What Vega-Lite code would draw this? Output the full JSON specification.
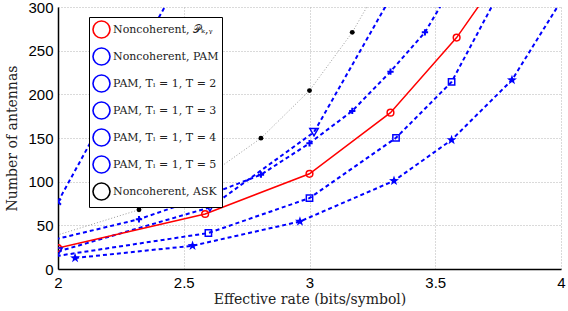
{
  "$schema": "https://vega.github.io/schema/vega-lite/v6.json",
  "width": 503,
  "height": 262,
  "autosize": {"type": "none"},
  "padding": {"left": 58, "top": 7, "right": 7, "bottom": 42},
  "background": "white",
  "config": {
    "view": {"stroke": null},
    "axis": {
      "labelFont": "Liberation Sans",
      "labelFontSize": 15,
      "labelColor": "#000",
      "titleFont": "DejaVu Serif",
      "titleFontSize": 14,
      "titleFontWeight": "normal",
      "titleColor": "#222",
      "domainColor": "#000",
      "domainWidth": 1.5,
      "ticks": false,
      "gridColor": "#b4b4b4",
      "gridDash": [1, 2],
      "gridWidth": 1
    }
  },
  "data": {
    "values": [
      {"s": "Noncoherent, 𝒫ₖ,ᵧ", "x": 2.0, "y": 24},
      {"s": "Noncoherent, 𝒫ₖ,ᵧ", "x": 2.585, "y": 63},
      {"s": "Noncoherent, 𝒫ₖ,ᵧ", "x": 3.0, "y": 109},
      {"s": "Noncoherent, 𝒫ₖ,ᵧ", "x": 3.322, "y": 179},
      {"s": "Noncoherent, 𝒫ₖ,ᵧ", "x": 3.585, "y": 265},
      {"s": "Noncoherent, 𝒫ₖ,ᵧ", "x": 3.807, "y": 356},
      {"s": "Noncoherent, PAM", "x": 1.585, "y": 6},
      {"s": "Noncoherent, PAM", "x": 2.322, "y": 57},
      {"s": "Noncoherent, PAM", "x": 2.585, "y": 83},
      {"s": "Noncoherent, PAM", "x": 2.807, "y": 108},
      {"s": "Noncoherent, PAM", "x": 3.0, "y": 144},
      {"s": "Noncoherent, PAM", "x": 3.17, "y": 181},
      {"s": "Noncoherent, PAM", "x": 3.322, "y": 226},
      {"s": "Noncoherent, PAM", "x": 3.459, "y": 271},
      {"s": "Noncoherent, PAM", "x": 3.585, "y": 332},
      {"s": "PAM, Tₗ = 1, T = 2", "x": 2.0, "y": 77},
      {"s": "PAM, Tₗ = 1, T = 2", "x": 2.5, "y": 340},
      {"s": "PAM, Tₗ = 1, T = 3", "x": 2.0, "y": 20},
      {"s": "PAM, Tₗ = 1, T = 3", "x": 2.604, "y": 70.5},
      {"s": "PAM, Tₗ = 1, T = 3", "x": 3.018, "y": 156.7},
      {"s": "PAM, Tₗ = 1, T = 3", "x": 3.364, "y": 332},
      {"s": "PAM, Tₗ = 1, T = 4", "x": 1.94, "y": 12.5},
      {"s": "PAM, Tₗ = 1, T = 4", "x": 2.598, "y": 41.2},
      {"s": "PAM, Tₗ = 1, T = 4", "x": 3.0, "y": 81.2},
      {"s": "PAM, Tₗ = 1, T = 4", "x": 3.344, "y": 150.2},
      {"s": "PAM, Tₗ = 1, T = 4", "x": 3.565, "y": 214.2},
      {"s": "PAM, Tₗ = 1, T = 4", "x": 3.783, "y": 332},
      {"s": "PAM, Tₗ = 1, T = 5", "x": 2.068, "y": 12.6},
      {"s": "PAM, Tₗ = 1, T = 5", "x": 2.535, "y": 26.6},
      {"s": "PAM, Tₗ = 1, T = 5", "x": 2.962, "y": 54.4},
      {"s": "PAM, Tₗ = 1, T = 5", "x": 3.336, "y": 101},
      {"s": "PAM, Tₗ = 1, T = 5", "x": 3.565, "y": 147.8},
      {"s": "PAM, Tₗ = 1, T = 5", "x": 3.805, "y": 216.4},
      {"s": "PAM, Tₗ = 1, T = 5", "x": 4.035, "y": 323},
      {"s": "Noncoherent, ASK", "x": 1.585, "y": 2},
      {"s": "Noncoherent, ASK", "x": 2.322, "y": 67.8},
      {"s": "Noncoherent, ASK", "x": 2.585, "y": 104.4},
      {"s": "Noncoherent, ASK", "x": 2.807, "y": 149.8},
      {"s": "Noncoherent, ASK", "x": 3.0, "y": 204.3},
      {"s": "Noncoherent, ASK", "x": 3.17, "y": 271},
      {"s": "Noncoherent, ASK", "x": 3.322, "y": 347}
    ]
  },
  "encoding": {
    "x": {
      "field": "x", "type": "quantitative",
      "scale": {"domain": [2, 4], "nice": false, "zero": false},
      "axis": {"values": [2, 2.5, 3, 3.5, 4], "format": "~g", "title": "Effective rate (bits/symbol)", "labelPadding": 6, "titlePadding": 2, "labelFlush": false}
    },
    "y": {
      "field": "y", "type": "quantitative",
      "scale": {"domain": [0, 300], "nice": false},
      "axis": {"values": [0, 50, 100, 150, 200, 250, 300], "title": "Number of antennas", "labelPadding": 5, "titlePadding": 8, "labelFlush": false}
    }
  },
  "layer": [
    {
      "transform": [{"filter": {"field": "s", "equal": "Noncoherent, ASK"}}],
      "mark": {"type": "line", "clip": true, "color": "#9a9a9a", "strokeWidth": 1, "strokeDash": [1, 2]},
      "encoding": {}
    },
    {
      "transform": [{"filter": {"field": "s", "equal": "Noncoherent, PAM"}}],
      "mark": {"type": "line", "clip": true, "color": "#0000ff", "strokeWidth": 2, "strokeDash": [4, 3]},
      "encoding": {}
    },
    {
      "transform": [{"filter": {"field": "s", "equal": "PAM, Tₗ = 1, T = 2"}}],
      "mark": {"type": "line", "clip": true, "color": "#0000ff", "strokeWidth": 2, "strokeDash": [4, 3]},
      "encoding": {}
    },
    {
      "transform": [{"filter": {"field": "s", "equal": "PAM, Tₗ = 1, T = 3"}}],
      "mark": {"type": "line", "clip": true, "color": "#0000ff", "strokeWidth": 2, "strokeDash": [4, 3]},
      "encoding": {}
    },
    {
      "transform": [{"filter": {"field": "s", "equal": "PAM, Tₗ = 1, T = 4"}}],
      "mark": {"type": "line", "clip": true, "color": "#0000ff", "strokeWidth": 2, "strokeDash": [4, 3]},
      "encoding": {}
    },
    {
      "transform": [{"filter": {"field": "s", "equal": "PAM, Tₗ = 1, T = 5"}}],
      "mark": {"type": "line", "clip": true, "color": "#0000ff", "strokeWidth": 2, "strokeDash": [4, 3]},
      "encoding": {}
    },
    {
      "transform": [{"filter": {"field": "s", "equal": "Noncoherent, 𝒫ₖ,ᵧ"}}],
      "mark": {"type": "line", "clip": true, "color": "#ff0000", "strokeWidth": 1.5},
      "encoding": {}
    },
    {
      "transform": [{"filter": {"field": "s", "equal": "Noncoherent, 𝒫ₖ,ᵧ"}}],
      "mark": {"type": "point", "clip": true, "filled": false, "opacity": 1, "shape": "circle", "size": 45, "color": "#ff0000", "strokeWidth": 1.5},
      "encoding": {}
    },
    {
      "transform": [{"filter": {"field": "s", "equal": "Noncoherent, PAM"}}],
      "mark": {"type": "point", "clip": true, "filled": false, "opacity": 1, "shape": "M-1,0L1,0M0,-1L0,1", "size": 40, "color": "#0000ff", "strokeWidth": 2},
      "encoding": {}
    },
    {
      "transform": [{"filter": {"field": "s", "equal": "PAM, Tₗ = 1, T = 2"}}],
      "mark": {"type": "point", "clip": true, "filled": false, "opacity": 1, "shape": "M-1,-1L1,1M-1,1L1,-1", "size": 34, "color": "#0000ff", "strokeWidth": 2},
      "encoding": {}
    },
    {
      "transform": [{"filter": {"field": "s", "equal": "PAM, Tₗ = 1, T = 3"}}],
      "mark": {"type": "point", "clip": true, "filled": false, "opacity": 1, "shape": "triangle-down", "size": 70, "color": "#0000ff", "strokeWidth": 1.5},
      "encoding": {}
    },
    {
      "transform": [{"filter": {"field": "s", "equal": "PAM, Tₗ = 1, T = 4"}}],
      "mark": {"type": "point", "clip": true, "filled": false, "opacity": 1, "shape": "square", "size": 40, "color": "#0000ff", "strokeWidth": 1.5},
      "encoding": {}
    },
    {
      "transform": [{"filter": {"field": "s", "equal": "PAM, Tₗ = 1, T = 5"}}],
      "mark": {"type": "point", "clip": true, "filled": true, "opacity": 1, "shape": "M0,-1L0.235,-0.324L0.951,-0.309L0.38,0.124L0.588,0.809L0,0.4L-0.588,0.809L-0.38,0.124L-0.951,-0.309L-0.235,-0.324Z", "size": 110, "color": "#0000ff"},
      "encoding": {}
    },
    {
      "transform": [{"filter": {"field": "s", "equal": "Noncoherent, ASK"}}],
      "mark": {"type": "point", "clip": true, "filled": true, "opacity": 1, "shape": "circle", "size": 24, "color": "#000000"},
      "encoding": {}
    },
    {
      "mark": {"type": "point", "clip": true, "opacity": 0},
      "encoding": {
        "color": {
          "field": "s", "type": "nominal",
          "scale": {
            "domain": ["Noncoherent, 𝒫ₖ,ᵧ", "Noncoherent, PAM", "PAM, Tₗ = 1, T = 2", "PAM, Tₗ = 1, T = 3", "PAM, Tₗ = 1, T = 4", "PAM, Tₗ = 1, T = 5", "Noncoherent, ASK"],
            "range": ["#ff0000", "#0000ff", "#0000ff", "#0000ff", "#0000ff", "#0000ff", "#000000"]
          },
          "legend": {
            "title": null,
            "orient": "none",
            "legendX": 31,
            "legendY": 10,
            "direction": "vertical",
            "fillColor": "white",
            "strokeColor": "#000",
            "padding": 3,
            "rowPadding": 2,
            "symbolSize": 289,
            "symbolStrokeWidth": 1.6,
            "labelFont": "DejaVu Serif",
            "labelFontSize": 11,
            "labelColor": "#222",
            "labelOffset": 2,
            "labelLimit": 300,
            "encode": {
              "legend": {"update": {"strokeWidth": {"value": 2}}},
              "symbols": {
                "update": {
                  "shape": {"signal": "datum.value === 'Noncoherent, PAM' ? 'M-1,0L-0.72,0M-0.56,0L-0.3,0M0.3,0L0.56,0M0.72,0L1,0M-0.4,0L0.4,0M0,-0.4L0,0.4' : datum.value === 'Noncoherent, ASK' ? 'M-1,0L-0.9,0M-0.75,0L-0.65,0M-0.5,0L-0.4,0M0.4,0L0.5,0M0.65,0L0.75,0M0.9,0L1,0M0.22,0L0.19,0.11L0.11,0.19L0,0.22L-0.11,0.19L-0.19,0.11L-0.22,0L-0.19,-0.11L-0.11,-0.19L0,-0.22L0.11,-0.19L0.19,-0.11Z' : indexof(datum.value, 'T = 2') >= 0 ? 'M-1,0L-0.72,0M-0.56,0L-0.3,0M0.3,0L0.56,0M0.72,0L1,0M-0.3,-0.3L0.3,0.3M-0.3,0.3L0.3,-0.3' : indexof(datum.value, 'T = 3') >= 0 ? 'M-1,0L-0.72,0M-0.56,0L-0.3,0M0.3,0L0.56,0M0.72,0L1,0M-0.45,-0.36L0.45,-0.36L0,0.42Z' : indexof(datum.value, 'T = 4') >= 0 ? 'M-1,0L-0.72,0M-0.56,0L-0.3,0M0.3,0L0.56,0M0.72,0L1,0M-0.3,-0.3L0.3,-0.3L0.3,0.3L-0.3,0.3Z' : indexof(datum.value, 'T = 5') >= 0 ? 'M-1,0L-0.72,0M-0.56,0L-0.3,0M0.3,0L0.56,0M0.72,0L1,0M0,-0.6L0.141,-0.194L0.571,-0.185L0.228,0.074L0.353,0.485L0,0.24L-0.353,0.485L-0.228,0.074L-0.571,-0.185L-0.141,-0.194Z' : 'M-1,0L-0.42,0M0.42,0L1,0M0.42,0L0.364,0.21L0.21,0.364L0,0.42L-0.21,0.364L-0.364,0.21L-0.42,0L-0.364,-0.21L-0.21,-0.364L0,-0.42L0.21,-0.364L0.364,-0.21Z'"},
                  "stroke": {"signal": "datum.value === 'Noncoherent, ASK' ? '#666666' : (indexof(datum.value, 'PAM') >= 0 ? '#0000ff' : '#ff0000')"},
                  "fill": {"signal": "datum.value === 'Noncoherent, ASK' ? '#000000' : (indexof(datum.value, 'T = 5') >= 0 ? '#0000ff' : 'transparent')"},
                  "strokeWidth": {"signal": "datum.value === 'Noncoherent, ASK' ? 1 : 1.6"},
                  "opacity": {"value": 1},
                  "size": {"value": 289}
                }
              }
            }
          }
        }
      }
    }
  ]
}
